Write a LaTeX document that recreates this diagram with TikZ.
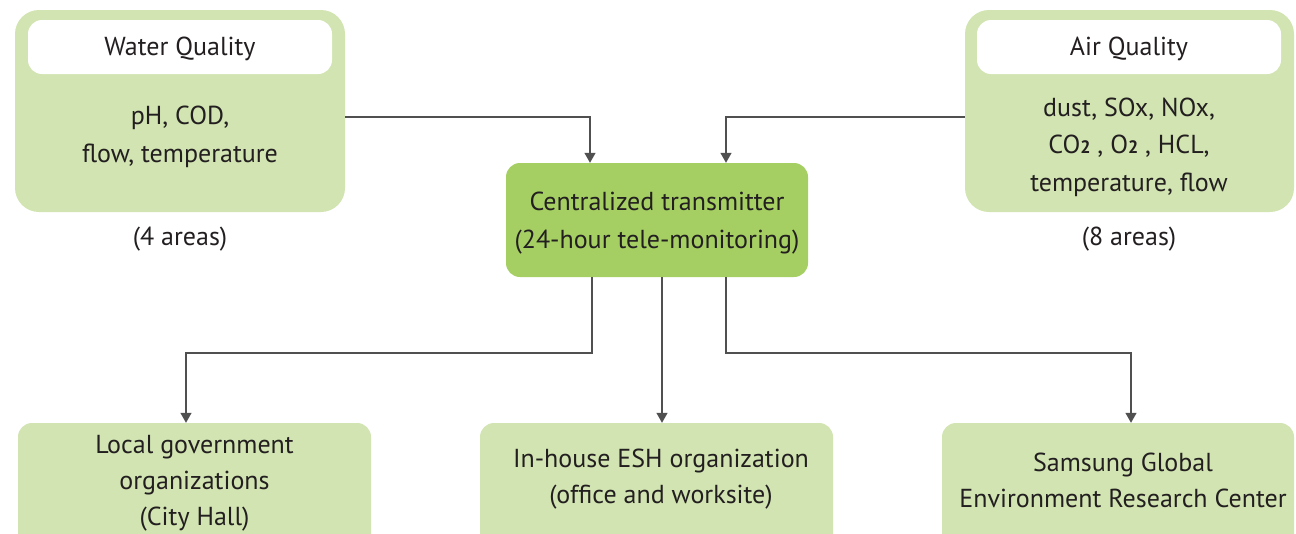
\documentclass[tikz,border=0pt]{standalone}
\usepackage{fontspec}
\setmainfont{PT Sans}
\usetikzlibrary{arrows.meta}
\definecolor{lightg}{HTML}{D1E4B1}
\definecolor{darkg}{HTML}{A5CF63}
\definecolor{txt}{HTML}{231F20}
\definecolor{lin}{HTML}{505050}
\newcommand{\subtwo}{{\fontsize{18}{18}\selectfont\bfseries 2}}
\tikzset{
  bigbox/.style={draw=none, fill=lightg, rounded corners=24pt, inner sep=0pt},
  titlebox/.style={draw=none, fill=white, rounded corners=14pt, inner sep=0pt, minimum width=304pt, minimum height=54pt},
  titletext/.style={text=txt, inner sep=0pt, font=\fontsize{26}{30}\selectfont},
  bodytext/.style={align=center, text=txt, inner sep=0pt, font=\fontsize{26}{37.5}\selectfont},
  centerbox/.style={draw=none, fill=darkg, rounded corners=14pt, inner sep=0pt, minimum width=302pt, minimum height=114pt},
  outbox/.style={draw=none, fill=lightg, rounded corners=14pt, inner sep=0pt, minimum height=137pt},
  outtext/.style={align=center, text=txt, inner sep=0pt, font=\fontsize{26}{36}\selectfont},
  arr/.style={draw=lin, line width=1.3pt, -{Triangle[length=10pt,width=11pt]}},
}
\begin{document}
\begin{tikzpicture}[x=1pt,y=1pt]
\useasboundingbox (0,0) rectangle (1296,-533);
\clip (0,0) rectangle (1296,-533);
% Water quality
\node[bigbox, minimum width=330pt, minimum height=202pt] (water) at (180,-111) {};
\node[titlebox] (wtitle) at (180,-47) {};
\node[titletext] (wttext) at (180,-49) {Water Quality};
\node[bodytext] (wtext) at (180,-137) {pH, COD,\\flow, temperature};
\node[bodytext] (warea) at (180,-239) {(4 areas)};
% Air quality
\node[bigbox, minimum width=329pt, minimum height=202pt] (air) at (1129.5,-111) {};
\node[titlebox] (atitle) at (1129,-47) {};
\node[titletext] (attext) at (1129,-49) {Air Quality};
\node[bodytext] (atext) at (1129,-147) {dust, SOx, NOx,\\CO\subtwo{} , O\subtwo{} , HCL,\\temperature, flow};
\node[bodytext] (aarea) at (1129,-239) {(8 areas)};
% Center
\node[centerbox] (center) at (657,-220) {};
\node[bodytext, font=\fontsize{26}{38}\selectfont] (ctext) at (657,-223) {Centralized transmitter\\(24-hour tele-monitoring)};
% Outputs
\node[outbox, minimum width=353pt] (local) at (194.5,-491.5) {};
\node[outtext] (ltext) at (194.5,-483) {Local government\\organizations\\(City Hall)};
\node[outbox, minimum width=353pt] (esh) at (656.5,-491.5) {};
\node[outtext] (etext) at (661,-479) {In-house ESH organization\\(office and worksite)};
\node[outbox, minimum width=352pt] (samsung) at (1118,-491.5) {};
\node[outtext] (stext) at (1123,-480) {Samsung Global\\Environment Research Center};
% Connectors
\coordinate (win) at (590,-117);
\coordinate (ain) at (726,-117);
\draw[arr] (water.east |- win) -| (center.north -| win);
\draw[arr] (air.west |- ain) -| (center.north -| ain);
\coordinate (o1) at (592,-353);
\coordinate (o2) at (662,-353);
\coordinate (o3) at (726,-353);
\coordinate (t1) at (186,-353);
\coordinate (t3) at (1131,-353);
\draw[arr] (center.south -| o1) -- (o1) -- (t1) -- (local.north -| t1);
\draw[arr] (center.south -| o2) -- (esh.north -| o2);
\draw[arr] (center.south -| o3) -- (o3) -- (t3) -- (samsung.north -| t3);
\end{tikzpicture}
\end{document}
